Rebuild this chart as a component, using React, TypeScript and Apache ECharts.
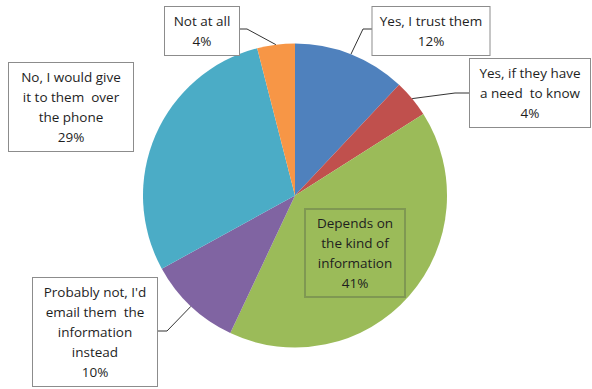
import React, { useEffect, useRef } from 'react';
import * as echarts from 'echarts';

const categories = [
  'Yes, I trust them',
  'Yes, if they have\na need  to know',
  'Depends on\nthe kind of\ninformation',
  "Probably not, I'd\nemail them  the\ninformation\ninstead",
  'No, I would give\nit to them  over\nthe phone',
  'Not at all',
];
const values = [12, 4, 41, 10, 29, 4];
const colors = ['#4F81BD', '#C0504D', '#9BBB59', '#8064A2', '#4BACC6', '#F79646'];

// label box layout (center x, center y, content width)
const boxCX = [431, 530, 355, 95, 71, 202];
const boxCY = [31, 93, 253, 332, 107, 31];
const boxW = [105, 108, 88, 112, 112, 62];
// leader line bends (after the pie-edge start point)
const guides: (number[][] | null)[] = [
  [[363, 29], [373, 29]],
  [[455, 93], [470, 93]],
  null,
  [[167, 331], [157, 331]],
  null,
  [[247, 29], [239, 29]],
];

export default function App() {
  const ref = useRef<HTMLDivElement>(null);
  useEffect(() => {
    document.body.style.margin = '0';
    const chart = echarts.init(ref.current!, null, { renderer: 'svg' });
    const data = categories.map((name, i) => {
      const inside = i === 2;
      return {
        name,
        value: values[i],
        itemStyle: { color: colors[i] },
        label: {
          position: inside ? 'inside' : 'outside',
          width: boxW[i],
          backgroundColor: inside ? 'transparent' : '#ffffff',
          borderColor: inside ? '#7f9852' : '#8c8c8c',
          borderWidth: 1,
        },
        labelLine: { show: !!guides[i] },
      };
    });
    chart.setOption({
      animation: false,
      backgroundColor: '#ffffff',
      series: [
        {
          type: 'pie',
          center: [295, 195.5],
          radius: 152,
          startAngle: 90,
          clockwise: true,
          avoidLabelOverlap: false,
          data,
          label: {
            show: true,
            formatter: (p: any) => `${p.name}\n${Math.round(p.percent)}%`,
            fontFamily: 'Open Sans',
            fontSize: 13.5,
            lineHeight: 20,
            color: '#1e1e1e',
            align: 'center',
            padding: [4, 6],
            overflow: 'none',
          },
          labelLine: {
            show: true,
            length: 10,
            length2: 10,
            lineStyle: { color: '#333333', width: 1 },
          },
          labelLayout: (params: any) => {
            const i = params.dataIndex;
            const res: any = {
              x: boxCX[i],
              y: boxCY[i],
              align: 'center',
              verticalAlign: 'middle',
            };
            const g = guides[i];
            if (g) {
              const pts = params.labelLinePoints;
              const start = pts && pts[0] ? pts[0] : g[0];
              res.labelLinePoints = [start, g[0], g[1]];
            }
            return res;
          },
        },
      ],
    });
    return () => chart.dispose();
  }, []);
  return <div ref={ref} style={{ width: 592, height: 389 }} />;
}
